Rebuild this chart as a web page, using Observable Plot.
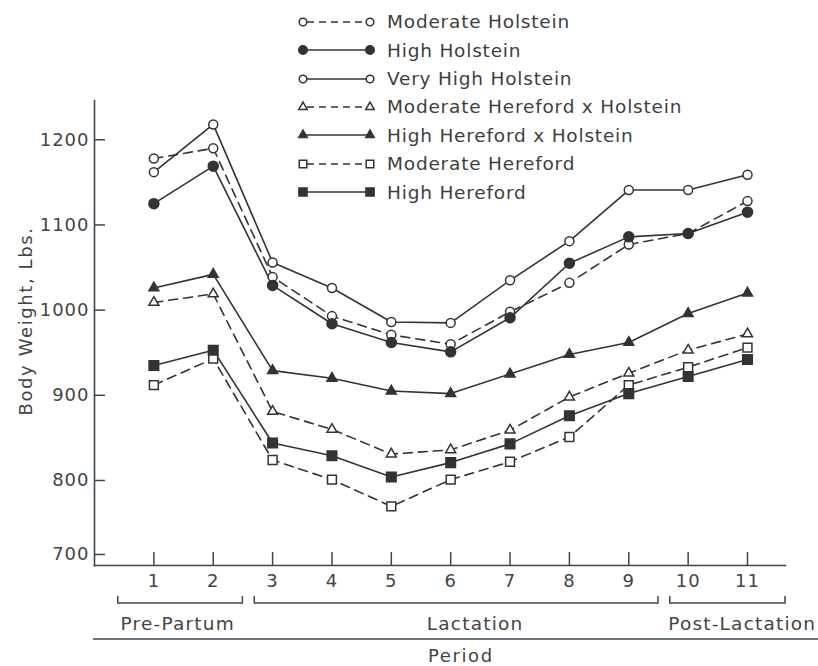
<!DOCTYPE html>
<html>
<head>
<meta charset="utf-8">
<script src="https://cdn.jsdelivr.net/npm/d3@7"></script>
<script src="https://cdn.jsdelivr.net/npm/@observablehq/plot@0.6"></script>
<style>
  body { margin: 0; background: #ffffff; }
  #wrap { position: relative; width: 818px; height: 666px; font-family: "DejaVu Sans", sans-serif; color: #444; }
  #legend { position: absolute; left: 0; top: 0; }
  .row { position: absolute; left: 297px; height: 24px; display: flex; align-items: center;
         font-size: 18.5px; letter-spacing: 0.8px; white-space: nowrap; color: #3e3e3e; }
  .row svg { margin-right: 10px; overflow: visible; }
</style>
</head>
<body>
<div id="wrap"><div id="chart"></div><div id="legend"></div></div>
<script>
// ---- data ----
const periods = [1, 2, 3, 4, 5, 6, 7, 8, 9, 10, 11];
const seriesNames = [
  "Moderate Holstein",
  "High Holstein",
  "Very High Holstein",
  "Moderate Hereford x Holstein",
  "High Hereford x Holstein",
  "Moderate Hereford",
  "High Hereford"
];
const moderateHolstein   = [1178, 1190, 1039, 993, 971, 960, 998, 1032, 1077, 1090, 1128];
const highHolstein       = [1125, 1169, 1029, 984, 962, 951, 991, 1055, 1086, 1090, 1115];
const veryHighHolstein   = [1162, 1218, 1056, 1026, 986, 985, 1035, 1081, 1141, 1141, 1159];
const moderateHerefordXH = [1009, 1019, 881, 860, 831, 836, 859, 898, 926, 953, 972];
const highHerefordXH     = [1026, 1042, 929, 920, 905, 902, 925, 948, 962, 996, 1020];
const moderateHereford   = [912, 943, 824, 801, 765, 801, 822, 851, 912, 933, 956];
const highHereford       = [935, 953, 844, 829, 804, 821, 843, 876, 902, 922, 942];
const seriesValues = [moderateHolstein, highHolstein, veryHighHolstein, moderateHerefordXH,
                      highHerefordXH, moderateHereford, highHereford];
const yTicks = [700, 800, 900, 1000, 1100, 1200];
const phases = ["Pre-Partum", "Lactation", "Post-Lactation"];
const phaseStart = [0.4, 2.7, 9.7];
const phaseEnd = [2.5, 9.5, 11.64];
const phaseLabelAt = [1.41, 6.42, 10.92];
const xTitle = "Period";
const xTitleAt = 6.18;
const yTitle = "Body Weight, Lbs.";

// ---- styles ----
const ink = "#333";
const axisInk = "#3d4650";
const textInk = "#444";
const seriesStyle = [
  {symbol: "circle",   filled: false, dashed: true,  r: 4.5},
  {symbol: "circle",   filled: true,  dashed: false, r: 5},
  {symbol: "circle",   filled: false, dashed: false, r: 4.5},
  {symbol: "triangle", filled: false, dashed: true,  r: 3.7},
  {symbol: "triangle", filled: true,  dashed: false, r: 3.7},
  {symbol: "square",   filled: false, dashed: true,  r: 5},
  {symbol: "square",   filled: true,  dashed: false, r: 5.4}
];
const dash = "9,6";
// the original drawing compresses the 700–800 band of the axis
const lowBandRatio = 0.74 / 0.8518;
const yTransform = v => v >= 800 ? v : 800 - (800 - v) * lowBandRatio;

const rows = seriesNames.flatMap((name, i) =>
  periods.map((p, j) => ({series: name, period: p, weight: seriesValues[i][j]})));

function annotations(index, scales, values, dims) {
  const x = scales.x;
  const base = dims.height - dims.marginBottom;
  const g = d3.create("svg:g");
  const ff = "DejaVu Sans, sans-serif";
  phases.forEach((name, i) => {
    const x1 = x(phaseStart[i]), x2 = x(phaseEnd[i]);
    g.append("path")
      .attr("d", `M${x1},${base + 31}V${base + 38}H${x2}V${base + 31}`)
      .attr("fill", "none").attr("stroke", axisInk).attr("stroke-width", 1.5);
    g.append("text")
      .attr("x", x(phaseLabelAt[i])).attr("y", base + 58)
      .attr("text-anchor", "middle").attr("dominant-baseline", "central")
      .attr("font-family", ff).attr("font-size", 18.5).attr("letter-spacing", 1.2)
      .attr("fill", textInk).text(name);
  });
  g.append("line")
    .attr("x1", dims.marginLeft - 1).attr("x2", dims.width)
    .attr("y1", base + 74).attr("y2", base + 74)
    .attr("stroke", axisInk).attr("stroke-width", 1.6);
  g.append("text")
    .attr("x", x(xTitleAt)).attr("y", base + 90)
    .attr("text-anchor", "middle").attr("dominant-baseline", "central")
    .attr("font-family", ff).attr("font-size", 18).attr("letter-spacing", 1.6)
    .attr("fill", textInk).text(xTitle);
  g.append("text")
    .attr("transform", `translate(${dims.marginLeft - 69},321) rotate(-90)`)
    .attr("text-anchor", "middle").attr("dominant-baseline", "central")
    .attr("font-family", ff).attr("font-size", 18).attr("letter-spacing", 1.6)
    .attr("fill", textInk).text(yTitle);
  return g.node();
}

const lineMarks = seriesNames.map((name, i) =>
  Plot.line(rows.filter(d => d.series === name), {
    x: "period", y: "weight", stroke: ink, strokeWidth: 1.6,
    strokeDasharray: seriesStyle[i].dashed ? dash : null
  }));
const dotMarks = seriesNames.map((name, i) =>
  Plot.dot(rows.filter(d => d.series === name), {
    x: "period", y: "weight", symbol: seriesStyle[i].symbol, r: seriesStyle[i].r,
    fill: seriesStyle[i].filled ? ink : "white", stroke: ink, strokeWidth: 1.5
  }));

const chart = Plot.plot({
  width: 818, height: 666,
  marginLeft: 94, marginRight: 33, marginTop: 100, marginBottom: 101,
  style: {fontFamily: "DejaVu Sans, sans-serif", fontSize: "17px", background: "transparent", overflow: "visible"},
  x: {domain: [0, 11.64], axis: null},
  y: {type: "linear", transform: yTransform, domain: [700.2, 1246.1], axis: null},
  marks: [
    Plot.frame({anchor: "left", stroke: axisInk, strokeWidth: 1.6}),
    Plot.frame({anchor: "bottom", stroke: axisInk, strokeWidth: 1.6}),
    Plot.axisY(yTicks, {anchor: "left", tickSize: -11, tickPadding: 16, stroke: axisInk, fill: textInk,
                        strokeWidth: 1.5, fontSize: 18, label: null, tickFormat: d => String(d)}),
    Plot.axisX(periods, {anchor: "bottom", tickSize: -13, tickPadding: 22, stroke: axisInk, fill: textInk,
                         strokeWidth: 1.5, fontSize: 18, label: null, tickFormat: d => String(d)}),
    ...lineMarks,
    ...dotMarks,
    annotations
  ]
});
chart.querySelectorAll("text").forEach(t => { if (!t.getAttribute("letter-spacing")) t.setAttribute("letter-spacing", "1"); });
document.getElementById("chart").appendChild(chart);

// ---- legend (HTML) ----
const legend = document.getElementById("legend");
seriesNames.forEach((name, i) => {
  const s = seriesStyle[i];
  const r = s.r * 0.85;
  const row = document.createElement("div");
  row.className = "row";
  row.style.top = (21.7 + i * 28.4 - 12) + "px";
  const svg = d3.create("svg").attr("width", 80).attr("height", 24);
  svg.append("line").attr("x1", 6).attr("x2", 73).attr("y1", 12).attr("y2", 12)
    .attr("stroke", ink).attr("stroke-width", 1.6).attr("stroke-dasharray", s.dashed ? "7,5" : null)
    .attr("stroke-dashoffset", s.dashed ? -4 : null);
  const sym = s.symbol === "circle" ? d3.symbolCircle : s.symbol === "triangle" ? d3.symbolTriangle : d3.symbolSquare;
  [6, 73].forEach(cx => {
    svg.append("path").attr("d", d3.symbol(sym, Math.PI * r * r)())
      .attr("transform", `translate(${cx},12)`)
      .attr("fill", s.filled ? ink : "white").attr("stroke", ink).attr("stroke-width", 1.5);
  });
  row.appendChild(svg.node());
  const span = document.createElement("span");
  span.textContent = name;
  row.appendChild(span);
  legend.appendChild(row);
});
</script>
</body>
</html>
